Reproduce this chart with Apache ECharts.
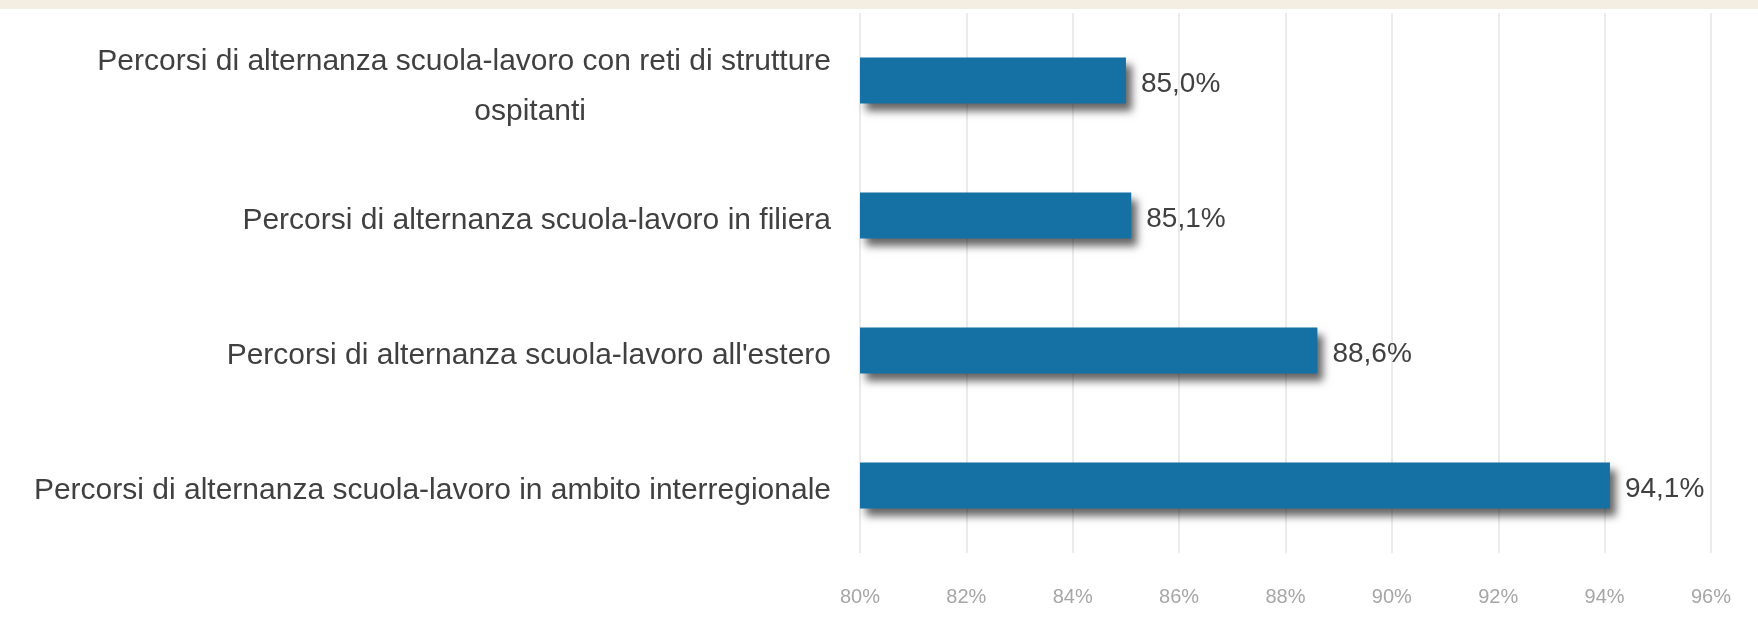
<!DOCTYPE html>
<html>
<head>
<meta charset="utf-8">
<script src="https://cdn.jsdelivr.net/npm/echarts@6/dist/echarts.min.js"></script>
<style>
  html, body { margin: 0; padding: 0; background: #fff; }
  #chart { width: 1758px; height: 642px; }
</style>
</head>
<body>
<div id="chart"></div>
<script>
  var categories = [
    "Percorsi di alternanza scuola-lavoro con reti di strutture\nospitanti",
    "Percorsi di alternanza scuola-lavoro in filiera",
    "Percorsi di alternanza scuola-lavoro all'estero",
    "Percorsi di alternanza scuola-lavoro in ambito interregionale"
  ];
  var values = [85.0, 85.1, 88.6, 94.1]; // percentuali
  var axisMin = 80;
  var axisMax = 96;
  var axisStep = 2;

  var myChart = echarts.init(document.getElementById('chart'));
  var font = "'Liberation Sans', Arial, sans-serif";

  var option = {
    backgroundColor: '#fff',
    animation: false,
    graphic: [
      {
        type: 'rect',
        left: 0,
        top: 0,
        shape: { width: 1758, height: 9 },
        style: { fill: '#f4eee2' }
      }
    ],
    grid: {
      left: 860,
      right: 47,
      top: 13,
      bottom: 89,
      containLabel: false,
      outerBoundsMode: 'none'
    },
    xAxis: {
      type: 'value',
      min: axisMin,
      max: axisMax,
      interval: axisStep,
      axisLine: { show: false },
      axisTick: { show: false },
      axisLabel: {
        formatter: '{value}%',
        fontFamily: font,
        fontSize: 20,
        color: '#a6a6a6',
        margin: 34
      },
      splitLine: {
        lineStyle: { color: '#e4e4e4', width: 1.5 }
      }
    },
    yAxis: {
      type: 'category',
      inverse: true,
      data: categories,
      axisLine: { show: false },
      axisTick: { show: false },
      axisLabel: {
        margin: 29,
        formatter: function (name) {
          var lines = name.split('\n');
          if (lines.length === 1) {
            return '{a|' + name + '}';
          }
          return '{c|' + lines[0] + '}\n{b|' + lines[1] + '}';
        },
        rich: {
          a: { fontFamily: font, fontSize: 30, color: '#404040', lineHeight: 54, padding: [10, 0, 0, 0] },
          c: { fontFamily: font, fontSize: 30, color: '#404040', lineHeight: 54, padding: [16, 0, 0, 0] },
          b: { fontFamily: font, fontSize: 30, color: '#404040', lineHeight: 54, padding: [8, 245, 0, 0] }
        }
      }
    },
    series: [
      {
        type: 'bar',
        data: values,
        barWidth: 46,
        itemStyle: {
          color: '#1570a4',
          shadowColor: 'rgba(0, 0, 0, 0.6)',
          shadowBlur: 8,
          shadowOffsetX: 6,
          shadowOffsetY: 7
        },
        label: {
          show: true,
          position: 'right',
          distance: 15,
          offset: [0, 4],
          fontFamily: font,
          fontSize: 28,
          color: '#404040',
          formatter: function (p) {
            return p.value.toFixed(1).replace('.', ',') + '%';
          }
        }
      }
    ]
  };

  option && myChart.setOption(option);
</script>
</body>
</html>
